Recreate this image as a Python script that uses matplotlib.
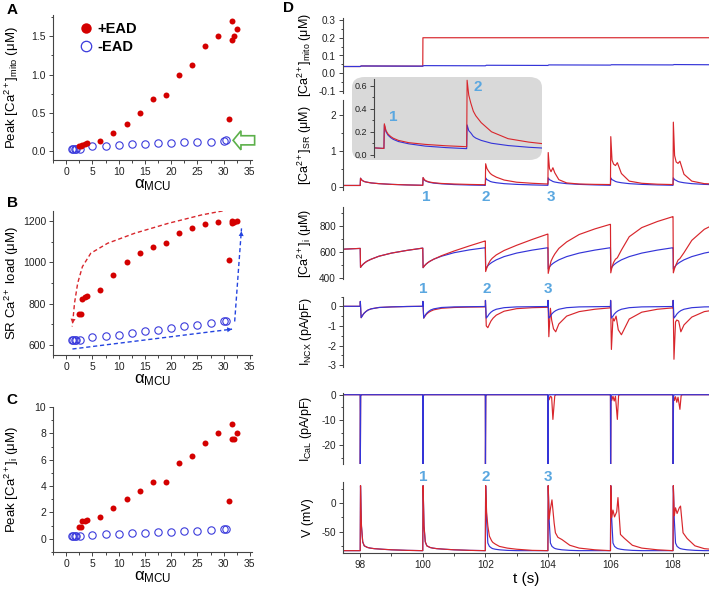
import matplotlib
matplotlib.use('Agg')
import matplotlib.pyplot as plt
from matplotlib.lines import Line2D
from matplotlib.patches import FancyBboxPatch, FancyArrow
from matplotlib.ticker import MultipleLocator

plt.rcParams['font.family'] = ['Liberation Sans', 'DejaVu Sans']
plt.rcParams['mathtext.fontset'] = 'custom'
plt.rcParams['mathtext.rm'] = 'Liberation Sans'
plt.rcParams['mathtext.it'] = 'Liberation Sans:italic'
plt.rcParams['mathtext.bf'] = 'Liberation Sans:bold'
plt.rcParams['axes.unicode_minus'] = False

RED = '#d8262c'
BLUE = '#3434d8'
NUM = '#5aa7e0'

# ---- panels A-C: peak values vs alpha_MCU ----
alpha_ead = [2.5, 2.75, 3.0, 3.5, 4.0, 6.5, 9, 11.5, 14, 16.5, 19, 21.5, 24, 26.5, 29,
             31, 31.5, 31.6, 32, 32.5]
mito_ead = [0.06, 0.07, 0.08, 0.09, 0.10, 0.13, 0.23, 0.35, 0.50, 0.68, 0.73, 0.99, 1.13,
            1.37, 1.51, 0.42, 1.70, 1.45, 1.50, 1.60]
sr_ead = [750, 752, 823, 831, 836, 864, 941, 1002, 1045, 1076, 1095, 1142, 1166, 1184,
          1196, 1012, 1201, 1190, 1195, 1198]
cai_ead = [0.88, 0.92, 1.34, 1.37, 1.41, 1.64, 2.32, 3.0, 3.66, 4.32, 4.29, 5.76, 6.29,
           7.27, 8.0, 2.85, 8.71, 7.58, 7.58, 8.0]

alpha_no = [1.2, 1.4, 1.6, 1.8, 2.6, 5, 7.5, 10, 12.5, 15, 17.5, 20, 22.5, 25, 27.5, 30, 30.5]
mito_no = [0.03, 0.03, 0.03, 0.03, 0.03, 0.057, 0.07, 0.079, 0.087, 0.092, 0.10, 0.109,
           0.114, 0.118, 0.122, 0.134, 0.136]
sr_no = [625, 625, 625, 625, 625, 637, 645, 650, 658, 666, 674, 682, 690, 698, 706, 714, 717]
cai_no = [0.22, 0.22, 0.22, 0.22, 0.24, 0.28, 0.33, 0.38, 0.43, 0.47, 0.51, 0.55, 0.59,
          0.63, 0.68, 0.74, 0.77]

# guide arrows of panel B
guide_red_a = [32.4, 25.8, 19.4, 13.0, 7.9, 4.7, 3.1, 2.2, 1.6, 1.3, 1.15]
guide_red_v = [1261, 1229, 1188, 1140, 1092, 1044, 979, 899, 803, 722, 690]
guide_blue1_a = [1.2, 31.6]
guide_blue1_v = [581, 677]
guide_blue2_a = [32.1, 33.4]
guide_blue2_v = [714, 1164]

# ---- panel D: time traces, beats every 2 s ----
BEATS = [98, 100, 102, 104, 106, 108]
T0 = 97.45

mito_t_blue = [97.45, 98.0, 98.03, 100.0, 100.03, 102.0, 102.03, 104.0, 104.03, 106.0,
               106.03, 108.0, 108.03, 109.15]
mito_blue = [0.038, 0.038, 0.041, 0.040, 0.043, 0.042, 0.045, 0.044, 0.047, 0.046, 0.048,
             0.047, 0.049, 0.048]
mito_t_red = [97.45, 98.0, 98.03, 100.0, 100.005, 109.15]
mito_red = [0.038, 0.038, 0.041, 0.040, 0.200, 0.200]

sr_dt = [0, 0.01, 0.05, 0.1, 0.16, 0.22, 0.35, 0.6, 1.0, 1.5, 1.99]
sr_red = [
    [0.05, 0.25, 0.20, 0.17, 0.15, 0.14, 0.12, 0.10, 0.08, 0.065, 0.055],
    [0.055, 0.27, 0.21, 0.18, 0.16, 0.145, 0.125, 0.105, 0.09, 0.078, 0.07],
    [0.07, 0.65, 0.52, 0.45, 0.38, 0.34, 0.28, 0.20, 0.14, 0.11, 0.09],
    [0.09, 0.96, 0.52, 0.43, 0.54, 0.40, 0.21, 0.12, 0.09, 0.08, 0.075],
    [0.075, 1.40, 0.75, 0.64, 0.60, 0.68, 0.38, 0.17, 0.11, 0.085, 0.075],
    [0.075, 1.80, 0.88, 0.70, 0.66, 0.72, 0.36, 0.17, 0.10, 0.085, 0.075],
]
sr_blue = [
    [0.05, 0.25, 0.20, 0.17, 0.15, 0.14, 0.12, 0.10, 0.08, 0.065, 0.055],
    [0.055, 0.26, 0.20, 0.17, 0.15, 0.135, 0.115, 0.095, 0.075, 0.062, 0.053],
    [0.053, 0.26, 0.21, 0.19, 0.16, 0.145, 0.125, 0.10, 0.08, 0.065, 0.055],
    [0.055, 0.26, 0.21, 0.19, 0.16, 0.145, 0.125, 0.10, 0.08, 0.065, 0.055],
    [0.055, 0.26, 0.21, 0.19, 0.16, 0.145, 0.125, 0.10, 0.08, 0.065, 0.055],
    [0.055, 0.26, 0.21, 0.19, 0.16, 0.145, 0.125, 0.10, 0.08, 0.065, 0.055],
]

cai_dt = [0, 0.01, 0.05, 0.1, 0.16, 0.22, 0.35, 0.6, 1.0, 1.5, 1.99]
cai_pre = 622
cai_red = [
    [628, 482, 495, 508, 520, 530, 545, 568, 592, 613, 630],
    [630, 480, 493, 506, 518, 528, 545, 572, 608, 648, 685],
    [685, 450, 480, 510, 535, 552, 578, 612, 652, 697, 738],
    [738, 436, 480, 530, 560, 585, 628, 678, 735, 778, 813],
    [813, 440, 485, 520, 545, 556, 615, 718, 788, 835, 872],
    [872, 440, 475, 505, 538, 550, 595, 690, 775, 835, 870],
]
cai_blue = [
    [628, 482, 495, 508, 520, 530, 545, 568, 592, 613, 630],
    [630, 480, 493, 506, 518, 528, 545, 568, 595, 617, 633],
    [633, 470, 485, 500, 512, 522, 540, 565, 592, 615, 633],
    [633, 470, 485, 500, 512, 522, 540, 565, 592, 615, 633],
    [633, 470, 485, 500, 512, 522, 540, 565, 592, 615, 633],
    [633, 470, 485, 500, 512, 522, 540, 565, 592, 615, 633],
]

ncx_dt = [0, 0.004, 0.03, 0.08, 0.12, 0.18, 0.25, 0.35, 0.6, 1.0, 1.5, 1.99]
ncx_red = [
    [0, 0.25, -0.58, -0.45, -0.36, -0.27, -0.19, -0.13, -0.06, -0.03, -0.01, 0],
    [0, 0.25, -0.6, -0.48, -0.4, -0.32, -0.25, -0.18, -0.1, -0.06, -0.04, -0.03],
    [-0.03, 0.3, -1.0, -1.09, -0.95, -0.75, -0.6, -0.45, -0.25, -0.12, -0.07, -0.05],
    [-0.05, 0.3, -1.55, -0.1, -0.7, -1.15, -1.3, -0.9, -0.5, -0.27, -0.15, -0.08],
    [-0.08, 0.3, -2.2, -0.6, -0.75, -0.5, -1.2, -1.45, -0.65, -0.3, -0.15, -0.08],
    [-0.08, 0.3, -2.7, -0.8, -0.7, -0.75, -1.3, -0.95, -0.55, -0.27, -0.15, -0.1],
]
ncx_blue = [
    [0, 0.25, -0.58, -0.45, -0.36, -0.27, -0.19, -0.13, -0.06, -0.03, -0.01, 0],
    [0, 0.25, -0.6, -0.45, -0.36, -0.27, -0.19, -0.13, -0.06, -0.03, -0.02, -0.01],
    [-0.01, 0.3, -0.6, -0.5, -0.4, -0.3, -0.22, -0.15, -0.07, -0.03, -0.02, -0.01],
    [-0.01, 0.3, -0.6, -0.5, -0.4, -0.3, -0.22, -0.15, -0.07, -0.03, -0.02, -0.01],
    [-0.01, 0.3, -0.6, -0.5, -0.4, -0.3, -0.22, -0.15, -0.07, -0.03, -0.02, -0.01],
    [-0.01, 0.3, -0.6, -0.5, -0.4, -0.3, -0.22, -0.15, -0.07, -0.03, -0.02, -0.01],
]

cal_dt = [0, 0.004, 0.015, 0.04, 0.08, 0.12, 0.16, 0.22, 0.26, 0.3, 1.99]
cal_red = [
    [0, -28, -0.5, 0, 0, 0, 0, 0, 0, 0, 0],
    [0, -28, -0.5, 0, 0, 0, 0, 0, 0, 0, 0],
    [0, -28, -0.5, 0, 0, 0, 0, 0, 0, 0, 0],
    [0, -28, -0.5, -2.0, -0.6, -1.0, -9.8, -0.4, 0, 0, 0],
    [0, -28, -0.5, -2.3, -0.6, -2.5, -0.6, -9.8, -0.3, 0, 0],
    [0, -28, -0.5, -2.3, -0.8, -3.0, -1.0, -5.8, -0.3, 0, 0],
]
cal_blue = [
    [0, -28, -0.5, 0, 0, 0, 0, 0, 0, 0, 0],
    [0, -28, -0.5, 0, 0, 0, 0, 0, 0, 0, 0],
    [0, -28, -0.5, 0, 0, 0, 0, 0, 0, 0, 0],
    [0, -28, -0.5, 0, 0, 0, 0, 0, 0, 0, 0],
    [0, -28, -0.5, 0, 0, 0, 0, 0, 0, 0, 0],
    [0, -28, -0.5, 0, 0, 0, 0, 0, 0, 0, 0],
]

v_dt = [0, 0.01, 0.04, 0.08, 0.13, 0.2, 0.24, 0.32, 0.45, 0.7, 1.0, 1.5, 1.99]
v_red = [
    [-83.5, 31, -40, -68, -75, -77, -78, -79, -80, -81, -82, -83, -83.5],
    [-83.5, 31, -40, -68, -75, -77, -78, -79, -80, -81, -82, -83, -83.5],
    [-83.5, 31, -15, -40, -58, -66, -69, -72, -76, -79, -81, -83, -83.5],
    [-83.5, 31, -28, -10, 6, -35, -52, -60, -64, -74, -79, -82, -83.5],
    [-83.5, 31, -25, -12, -24, -15, 10, -55, -62, -74, -79, -82, -83.5],
    [-83.5, 31, -22, -8, -18, -8, -5, -52, -62, -75, -80, -82.5, -83.5],
]
v_blue = [
    [-83.5, 31, -40, -68, -75, -77, -78, -79, -80, -81, -82, -83, -83.5],
    [-83.5, 31, -40, -68, -75, -77, -78, -79, -80, -81, -82, -83, -83.5],
    [-83.5, 31, -28, -70, -76, -79, -80, -81, -82, -83, -83.5, -83.5, -83.5],
    [-83.5, 31, -28, -70, -76, -79, -80, -81, -82, -83, -83.5, -83.5, -83.5],
    [-83.5, 31, -28, -70, -76, -79, -80, -81, -82, -83, -83.5, -83.5, -83.5],
    [-83.5, 31, -28, -70, -76, -79, -80, -81, -82, -83, -83.5, -83.5, -83.5],
]


def trace(pre, rows, dt):
    t, y = [T0], [pre]
    for b, row in zip(BEATS, rows):
        t += [b + d for d in dt]
        y += list(row)
    return t, y


fig = plt.figure(figsize=(7.09, 5.91), dpi=100)
W_PX, H_PX = 709, 591


def px_axes(x0, y0, x1, y1):
    return fig.add_axes([x0 / W_PX, 1 - y1 / H_PX, (x1 - x0) / W_PX, (y1 - y0) / H_PX])


def style_left(ax, size):
    for s in ['top', 'right']:
        ax.spines[s].set_visible(False)
    for s in ['left', 'bottom']:
        ax.spines[s].set_linewidth(0.8)
        ax.spines[s].set_color('#444444')
    ax.tick_params(which='both', direction='out', labelsize=size, colors='#444444',
                   labelcolor='#222222', width=0.7, pad=2)
    ax.tick_params(which='major', length=3)
    ax.tick_params(which='minor', length=1.8)


# ---------- A, B, C ----------
abc = [
    (15, 160, mito_ead, mito_no, (-0.12, 1.78), 0.5, 0.25,
     'Peak [Ca$^{\\mathrm{2+}}$]$_{\\mathrm{mito}}$ (μM)'),
    (211, 355, sr_ead, sr_no, (552, 1248), 200, 100, 'SR Ca$^{\\mathrm{2+}}$ load (μM)'),
    (407, 552, cai_ead, cai_no, (-1, 10), 2, 1, 'Peak [Ca$^{\\mathrm{2+}}$]$_{\\mathrm{i}}$ (μM)'),
]
abc_axes = []
for top, bot, yr, yb, ylim, maj, mnr, lab in abc:
    ax = px_axes(53, top, 252, bot)
    style_left(ax, 7.5)
    ax.plot(alpha_no, yb, 'o', ms=5.3, mfc='none', mec='#3b3bdc', mew=0.8, zorder=3)
    ax.plot(alpha_ead, yr, 'o', ms=4.3, color='#d40000', mec='none', zorder=4)
    ax.set_xlim(-2.5, 35.4)
    ax.set_ylim(*ylim)
    ax.xaxis.set_major_locator(MultipleLocator(5))
    ax.xaxis.set_minor_locator(MultipleLocator(2.5))
    ax.yaxis.set_major_locator(MultipleLocator(maj))
    ax.yaxis.set_minor_locator(MultipleLocator(mnr))
    ax.set_xlabel('α$_{\\mathrm{MCU}}$', fontsize=12, labelpad=0)
    ax.set_ylabel(lab, fontsize=9.5)
    ax.yaxis.set_label_coords(-0.16, 0.5)
    abc_axes.append(ax)

axA, axB, axC = abc_axes
axA.legend(handles=[Line2D([], [], ls='none', marker='o', ms=7.5, color='#d40000', mec='none'),
                    Line2D([], [], ls='none', marker='o', ms=7.5, mfc='none', mec='#3b3bdc', mew=0.9)],
           labels=['+EAD', '-EAD'], loc='upper left', bbox_to_anchor=(0.07, 1.02), frameon=False,
           prop={'size': 10.5, 'weight': 'bold'}, handletextpad=0.2, labelspacing=0.25,
           borderpad=0.2, handlelength=1.2)
axA.add_patch(FancyArrow(35.9, 0.138, -4.1, 0, width=0.12, head_width=0.25, head_length=1.5,
                         length_includes_head=True, fc='white', ec='#5cb04a', lw=1.2,
                         clip_on=False, zorder=5))

axB.plot(guide_red_a, guide_red_v, ls=(0, (3, 2)), color='#d8262c', lw=1.0)
axB.annotate('', xy=(guide_red_a[-1], guide_red_v[-1]), xytext=(guide_red_a[-2], guide_red_v[-2]),
             arrowprops=dict(arrowstyle='-|>,head_length=0.35,head_width=0.18', color='#d8262c', lw=0))
axB.plot(guide_blue1_a, guide_blue1_v, ls=(0, (3, 2)), color='#2444e0', lw=1.0, clip_on=False)
axB.annotate('', xy=(guide_blue1_a[-1], guide_blue1_v[-1]), xytext=(guide_blue1_a[-1] - 1, guide_blue1_v[-1] - 3.2),
             arrowprops=dict(arrowstyle='-|>,head_length=0.35,head_width=0.18', color='#2444e0', lw=0))
axB.plot(guide_blue2_a, guide_blue2_v, ls=(0, (3, 2)), color='#2444e0', lw=1.0, clip_on=False)
axB.annotate('', xy=(guide_blue2_a[-1], guide_blue2_v[-1]), xytext=(guide_blue2_a[-1] - 0.05, guide_blue2_v[-1] - 30),
             arrowprops=dict(arrowstyle='-|>,head_length=0.35,head_width=0.18', color='#2444e0', lw=0),
             annotation_clip=False)

for letter, y in [('A', 10), ('B', 203), ('C', 400)]:
    fig.text(12 / W_PX, 1 - y / H_PX, letter, fontsize=11, fontweight='bold', va='center', ha='center')
fig.text(288 / W_PX, 1 - 8 / H_PX, 'D', fontsize=11, fontweight='bold', va='center', ha='center')

# ---------- D ----------
panels = [
    (18.2, 92.8, (-0.11, 0.31), 0.1, 0.05, '[Ca$^{\\mathrm{2+}}$]$_{\\mathrm{mito}}$ (μM)'),
    (100.1, 189.8, (-0.07, 2.41), 1, 0.5, '[Ca$^{\\mathrm{2+}}$]$_{\\mathrm{SR}}$ (μM)'),
    (207.2, 278.7, (395, 945), 200, 100, '[Ca$^{\\mathrm{2+}}$]$_{\\mathrm{i}}$ (μM)'),
    (296.5, 367.1, (-3.1, 0.5), 1, 0.5, 'I$_{\\mathrm{NCX}}$ (pA/pF)'),
    (392.7, 464.0, (-27.5, 0.8), 10, 5, 'I$_{\\mathrm{CaL}}$ (pA/pF)'),
    (481.7, 553.2, (-88, 38), 50, 25, 'V (mV)'),
]
dax = []
for i, (top, bot, ylim, maj, mnr, lab) in enumerate(panels):
    ax = px_axes(343, top, 709, bot)
    style_left(ax, 7.2)
    ax.set_xlim(T0, 109.15)
    ax.set_ylim(*ylim)
    ax.yaxis.set_major_locator(MultipleLocator(maj))
    ax.yaxis.set_minor_locator(MultipleLocator(mnr))
    ax.xaxis.set_major_locator(MultipleLocator(2))
    ax.xaxis.set_minor_locator(MultipleLocator(1))
    if i < 5:
        ax.spines['bottom'].set_visible(False)
        ax.tick_params(axis='x', which='both', bottom=False, labelbottom=False)
    ax.set_ylabel(lab, fontsize=9)
    ax.yaxis.set_label_coords(-0.08, 0.5)
    ax.patch.set_alpha(0)
    dax.append(ax)

axM, axS, axI, axN, axL, axV = dax
LW = 0.85
axM.plot(mito_t_red, mito_red, color=RED, lw=LW)
axM.plot(mito_t_blue, mito_blue, color=BLUE, lw=LW)

t, y = trace(0.05, sr_blue, sr_dt)
axS.plot(t, y, color=BLUE, lw=LW)
t, y = trace(0.05, sr_red, sr_dt)
axS.plot(t, y, color=RED, lw=LW)

t, y = trace(cai_pre, cai_blue, cai_dt)
axI.plot(t, y, color=BLUE, lw=LW)
t, y = trace(cai_pre, cai_red, cai_dt)
axI.plot(t, y, color=RED, lw=LW)

t, y = trace(0, ncx_red, ncx_dt)
axN.plot(t, y, color=RED, lw=LW)
t, y = trace(0, ncx_blue, ncx_dt)
axN.plot(t, y, color=BLUE, lw=LW)

t, y = trace(0, cal_red, cal_dt)
axL.plot(t, y, color=RED, lw=LW)
t, y = trace(0, cal_blue, cal_dt)
axL.plot(t, y, color=BLUE, lw=LW)

t, y = trace(-83.5, v_blue, v_dt)
axV.plot(t, y, color=BLUE, lw=LW)
t, y = trace(-83.5, v_red, v_dt)
axV.plot(t, y, color=RED, lw=LW)
axV.set_xlabel('t (s)', fontsize=11, labelpad=1)

# beat numbers
for ax, ypos, xs in [(axS, -0.27, [100.1, 102.0, 104.1]),
                     (axN, 0.88, [100.0, 102.05, 104.0]),
                     (axV, 47, [100.0, 102.0, 104.0])]:
    for k, x in enumerate(xs):
        ax.text(x, ypos, str(k + 1), color=NUM, fontsize=11, fontweight='bold',
                ha='center', va='center', clip_on=False)

# inset with grey rounded box
box = FancyBboxPatch((352 / W_PX, 1 - 160 / H_PX), 190 / W_PX, 83 / H_PX,
                     boxstyle='round,pad=0,rounding_size=0.018', transform=fig.transFigure,
                     fc='#d9d9d9', ec='none', zorder=1)
fig.patches.append(box)
axIn = px_axes(374, 79.1, 542, 157)
axIn.set_zorder(3)
axIn.patch.set_alpha(0)
style_left(axIn, 6.5)
axIn.spines['bottom'].set_visible(False)
axIn.tick_params(axis='x', which='both', bottom=False, labelbottom=False)
axIn.set_xlim(99.76, 103.82)
axIn.set_ylim(-0.02, 0.66)
axIn.yaxis.set_major_locator(MultipleLocator(0.2))
axIn.yaxis.set_minor_locator(MultipleLocator(0.1))
t, y = trace(0.05, sr_blue, sr_dt)
axIn.plot(t, y, color=BLUE, lw=0.8)
t, y = trace(0.05, sr_red, sr_dt)
axIn.plot(t, y, color=RED, lw=0.8)
axIn.text(100.23, 0.33, '1', color=NUM, fontsize=11, fontweight='bold', ha='center', va='center')
axIn.text(102.26, 0.59, '2', color=NUM, fontsize=11, fontweight='bold', ha='center', va='center')

fig.savefig('out.png', dpi=100)
